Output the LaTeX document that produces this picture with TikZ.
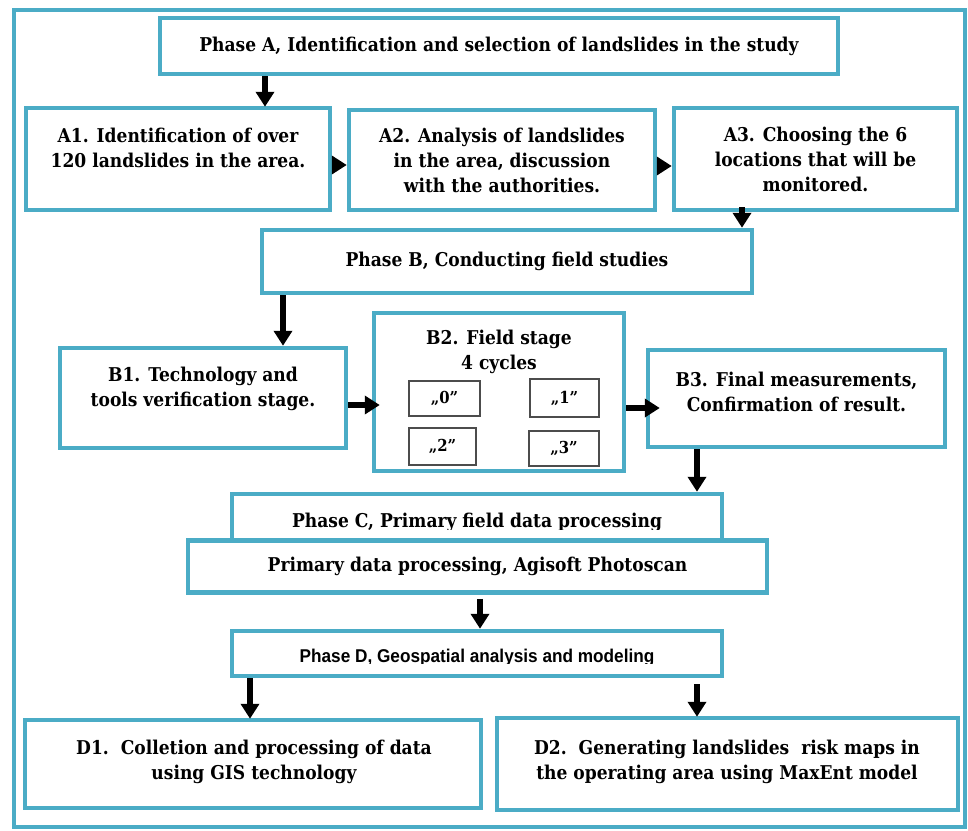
\documentclass[tikz,border=0pt]{standalone}
\usepackage{fontspec}
\setmainfont{DejaVu Serif}[FakeStretch=0.9]
\newfontfamily\narrowsans[FakeStretch=0.93]{Liberation Sans}
\usetikzlibrary{arrows.meta}
\definecolor{boxblue}{HTML}{4BACC6}
\begin{document}
\begin{tikzpicture}[x=1pt,y=-1pt,
  box/.style={draw=boxblue,line width=4.5pt,fill=white,inner sep=0pt},
  sub/.style={draw=black!70,line width=1.3pt,fill=white,inner sep=0pt},
  txt/.style={align=center,inner sep=0pt,font=\fontsize{19}{25}\selectfont\bfseries},
  subtxt/.style={inner sep=0pt,font=\fontsize{16.5}{18}\selectfont\bfseries},
  arr/.style={line width=6pt,-{Triangle[length=15pt,width=18pt]}},
]
\useasboundingbox (0,0) rectangle (968,830);
\draw[boxblue,line width=4pt] (14,10) rectangle (965,827);

% Phase A
\node[box,minimum width=678pt,minimum height=56pt,txt] (PA) at (499,46) {Phase A, Identification and selection of landslides in the study};
\node[box,minimum width=304pt,minimum height=102pt] (A1) at (178,159) {};
\node[txt] (A1t) at (178,148) {A1. Identification of over\\120 landslides in the area.};
\node[box,minimum width=306pt,minimum height=100pt] (A2) at (502,160) {};
\node[txt] (A2t) at (502,160) {A2. Analysis of landslides\\in the area, discussion\\with the authorities.};
\node[box,minimum width=283pt,minimum height=102pt] (A3) at (815.5,159) {};
\node[txt] (A3t) at (815.5,159) {A3. Choosing the 6\\locations that will be\\monitored.};

% Phase B
\node[box,minimum width=490pt,minimum height=63pt,txt] (PB) at (507,261.5) {Phase B, Conducting field studies};
\node[box,minimum width=286pt,minimum height=100pt] (B1) at (203,398) {};
\node[txt] (B1t) at (203,389) {B1. Technology and\\tools verification stage.};
\node[box,minimum width=250pt,minimum height=158pt] (B2) at (499,392) {};
\node[txt] (B2t) at (499,352) {B2. Field stage\\4 cycles};
\node[sub,minimum width=71pt,minimum height=35pt,subtxt] (S0) at (444.5,398.5) {„0”};
\node[sub,minimum width=69pt,minimum height=38pt,subtxt] (S1) at (564.5,398) {„1”};
\node[sub,minimum width=67pt,minimum height=37pt,subtxt] (S2) at (442.5,446.5) {„2”};
\node[sub,minimum width=70pt,minimum height=35pt,subtxt] (S3) at (564,448.5) {„3”};
\node[box,minimum width=297pt,minimum height=97pt] (B3) at (796.5,398.5) {};
\node[txt] (B3t) at (796.5,392) {B3. Final measurements,\\Confirmation of result.};

% Phase C
\node[box,minimum width=490pt,minimum height=50pt] (PC) at (477,519) {};
\begin{scope}
\clip (PC.north west) rectangle ([yshift=-10pt]PC.east);
\node[txt,anchor=base] (PCt) at (477,527) {Phase C, Primary field data processing};
\end{scope}
\node[box,minimum width=579pt,minimum height=52pt,txt] (PP) at (477.5,566.5) {Primary data processing, Agisoft Photoscan};

% Phase D
\node[box,minimum width=490pt,minimum height=45pt] (PD) at (477,653.5) {};
\begin{scope}
\clip (PD.north west) rectangle ([yshift=-9.5pt]PD.east);
\node[inner sep=0pt,anchor=base,font=\fontsize{18.5}{22}\selectfont\narrowsans\bfseries] (PDt) at (477,662) {Phase D, Geospatial analysis and modeling};
\end{scope}
\node[box,minimum width=456pt,minimum height=88pt] (D1) at (253,764) {};
\node[txt] (D1t) at (254,762) {D1.\ \ Colletion and processing of data\\using GIS technology};
\node[box,minimum width=461pt,minimum height=92pt] (D2) at (727.5,764) {};
\node[txt] (D2t) at (727,762) {D2.\ \ Generating landslides\ \ risk maps in\\the operating area using MaxEnt model};

% connectors (yshift is in canvas units: negative = downwards on the page)
\path ([xshift=87pt]A1.north) coordinate (a1in);
\draw[arr] (PA.south -| a1in) -- ([yshift=-1pt]a1in);
\path ([yshift=-6pt]A1.east) coordinate (a1out);
\draw[arr] (a1out) -- (a1out -| A2.west);
\path ([yshift=-6pt]A2.east) coordinate (a2out);
\draw[arr] (a2out) -- (a2out -| A3.west);
\path ([xshift=-73.5pt,yshift=5pt]A3.south) coordinate (a3out);
\draw[arr] (a3out) -- (a3out |- PB.north);
\path ([xshift=-224pt]PB.south) coordinate (pbout);
\draw[arr] (pbout) -- (pbout |- B1.north);
\path ([yshift=-7pt]B1.east) coordinate (b1out);
\draw[arr] (b1out) -- ([xshift=8pt]b1out -| B2.west);
\path ([yshift=-16pt]B2.east) coordinate (b2out);
\draw[arr] (b2out) -- ([xshift=14pt]b2out -| B3.west);
\path ([xshift=-99.5pt]B3.south) coordinate (b3out);
\draw[arr] (b3out) -- (b3out |- PC.north);
\path ([xshift=2.5pt,yshift=-4pt]PP.south) coordinate (ppout);
\draw[arr] (ppout) -- (ppout |- PD.north);
\path ([xshift=-227pt]PD.south) coordinate (pdl);
\draw[arr] (pdl) -- ([yshift=-1pt]pdl |- D1.north);
\path ([xshift=220pt,yshift=-6pt]PD.south) coordinate (pdr);
\draw[arr] (pdr) -- ([yshift=-1pt]pdr |- D2.north);
\end{tikzpicture}
\end{document}
